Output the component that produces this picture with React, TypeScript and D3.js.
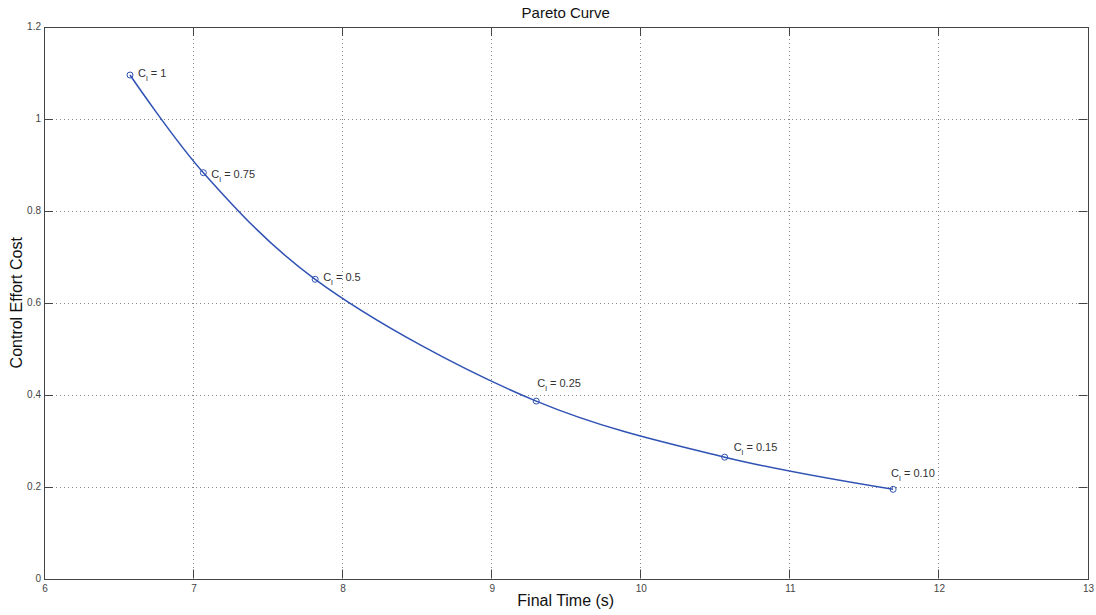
import React from "react";
import * as d3 from "d3";

// Final time (s) and control effort cost for each weight C_l
const weights = ["1", "0.75", "0.5", "0.25", "0.15", "0.10"];
const finalTime = [6.577, 7.069, 7.819, 9.302, 10.566, 11.696];
const effortCost = [1.0955, 0.883, 0.651, 0.386, 0.264, 0.194];

const xTicks = [6, 7, 8, 9, 10, 11, 12, 13];
const yTicks = [0, 0.2, 0.4, 0.6, 0.8, 1, 1.2];
const yTickLabels = ["0", "0.2", "0.4", "0.6", "0.8", "1", "1.2"];

// label placement relative to each point, in px
const labelDx = [8, 8, 8, 1, 9, -2];
const labelDy = [2, 5, 2, -14, -6, -12];

const W = 1096;
const H = 615;
const M = { left: 44, right: 1087.5, top: 27, bottom: 578.5 };
const BLUE = "#2f52b4";
const AXIS = "#444";
const FONT = "Arial, 'Liberation Sans', Helvetica, sans-serif";

export default function App() {
  const x = d3.scaleLinear().domain([6, 13]).range([M.left, M.right]);
  const y = d3.scaleLinear().domain([0, 1.2]).range([M.bottom, M.top]);

  const pts: [number, number][] = finalTime.map((t, i) => [t, effortCost[i]]);
  const line = d3
    .line<[number, number]>()
    .x((d) => x(d[0]))
    .y((d) => y(d[1]))
    .curve(d3.curveCatmullRom.alpha(0.5));

  const tickLen = 9;

  return (
    <svg
      width={W}
      height={H}
      style={{ position: "absolute", left: 0, top: 0, background: "#fff" }}
      fontFamily={FONT}
    >
      <rect x={0} y={0} width={W} height={H} fill="#fff" />
      {/* grid */}
      <g stroke="#888" strokeWidth={1} strokeDasharray="1,3">
        {xTicks.slice(1, -1).map((t) => (
          <line key={"gx" + t} x1={Math.round(x(t)) + 0.5} x2={Math.round(x(t)) + 0.5} y1={M.top} y2={M.bottom} />
        ))}
        {yTicks.slice(1, -1).map((t) => (
          <line key={"gy" + t} x1={M.left} x2={M.right} y1={Math.round(y(t)) + 0.5} y2={Math.round(y(t)) + 0.5} />
        ))}
      </g>
      {/* tick marks (inside, all four sides) */}
      <g stroke={AXIS} strokeWidth={1}>
        {xTicks.map((t) => {
          const px = Math.round(x(t)) + 0.5;
          return (
            <g key={"tx" + t}>
              <line x1={px} x2={px} y1={M.bottom} y2={M.bottom - tickLen} />
              <line x1={px} x2={px} y1={M.top} y2={M.top + tickLen} />
            </g>
          );
        })}
        {yTicks.map((t) => {
          const py = Math.round(y(t)) + 0.5;
          return (
            <g key={"ty" + t}>
              <line x1={M.left} x2={M.left + tickLen} y1={py} y2={py} />
              <line x1={M.right} x2={M.right - tickLen} y1={py} y2={py} />
            </g>
          );
        })}
      </g>
      {/* axes box */}
      <rect
        x={Math.round(M.left) + 0.5}
        y={Math.round(M.top) + 0.5}
        width={Math.round(M.right) - Math.round(M.left)}
        height={Math.round(M.bottom) - Math.round(M.top)}
        fill="none"
        stroke={AXIS}
        strokeWidth={1}
      />
      {/* tick labels */}
      <g fontSize={10} fill="#444">
        {xTicks.map((t) => (
          <text key={"lx" + t} x={x(t) + 1} y={M.bottom + 13} textAnchor="middle">
            {t}
          </text>
        ))}
        {yTicks.map((t, i) => (
          <text key={"ly" + t} x={M.left - 3} y={y(t) + 3} textAnchor="end">
            {yTickLabels[i]}
          </text>
        ))}
      </g>
      {/* curve */}
      <path d={line(pts) || ""} fill="none" stroke={BLUE} strokeWidth={1.5} />
      {pts.map((p, i) => (
        <circle key={"m" + i} cx={x(p[0])} cy={y(p[1])} r={3} fill="none" stroke={BLUE} strokeWidth={1} />
      ))}
      {/* point labels */}
      <g fontSize={11} fill="#333">
        {pts.map((p, i) => (
          <text key={"pl" + i} x={x(p[0]) + labelDx[i]} y={y(p[1]) + labelDy[i]}>
            C
            <tspan fontSize={8} dy={4}>
              l
            </tspan>
            <tspan dy={-4}>{" = " + weights[i]}</tspan>
          </text>
        ))}
      </g>
      {/* titles */}
      <text x={(M.left + M.right) / 2} y={18} textAnchor="middle" fontSize={15} fill="#111">
        Pareto Curve
      </text>
      <text x={(M.left + M.right) / 2} y={606} textAnchor="middle" fontSize={16} fill="#111">
        Final Time (s)
      </text>
      <text
        transform={`translate(22, ${(M.top + M.bottom) / 2}) rotate(-90)`}
        textAnchor="middle"
        fontSize={16}
        fill="#111"
      >
        Control Effort Cost
      </text>
    </svg>
  );
}
